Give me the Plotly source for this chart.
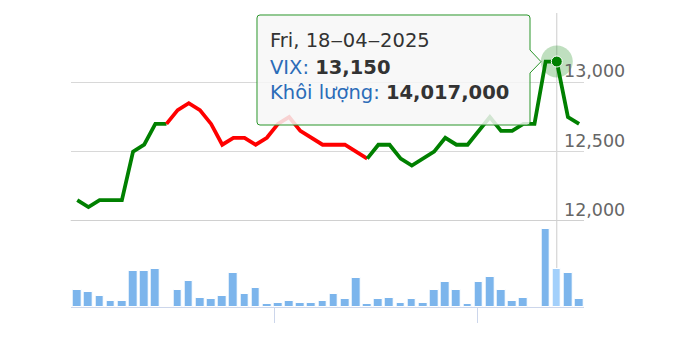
import plotly.graph_objects as go

# ---------------- data ----------------
idx = list(range(46))
price = [12150, 12100, 12150, 12150, 12150, 12500, 12550, 12700, 12700, 12800,
         12850, 12800, 12700, 12550, 12600, 12600, 12550, 12600, 12700, 12750,
         12650, 12600, 12550, 12550, 12550, 12500, 12450, 12550, 12550, 12450,
         12400, 12450, 12500, 12600, 12550, 12550, 12650, 12750, 12650, 12650,
         12700, 12700, 13150, 13150, 12750, 12700]
volume = [6400000, 5600000, 4200000, 2300000, 2300000, 13400000, 13400000, 14000000, None, 6400000,
          9500000, 3400000, 2800000, 4100000, 12700000, 5000000, 6900000, 1000000, 1600000, 2300000,
          1600000, 1600000, 2300000, 5000000, 2800000, 10700000, 1000000, 2800000, 3400000, 1600000,
          2800000, 1600000, 6200000, 9400000, 6200000, 1100000, 9400000, 11300000, 6200000, 2300000,
          3400000, None, 29000000, 14017000, 12700000, 2800000]
# colour zones of the price line (index boundaries)
zone_green1 = (0, 8)
zone_red = (8, 26)
zone_green2 = (26, 45)
hover_i = 43
hover_date = "Fri, 18\u201204\u20122025"
series_name = "VIX"
volume_name = "Khôi lượng"
price_ticks = [12000, 12500, 13000, 13500]
price_labels = ["12,000", "12,500", "13,000"]
x_ticks = [17.73, 35.85]

W, H = 690, 337
FONT = "DejaVu Sans"
GREEN = "#008000"
RED = "#ff0000"

def px(x):
    return x / W

def py(y):
    return 1 - y / H

fig = go.Figure()

# volume bars
bar_colors = ["#a3d0fb" if i == hover_i else "#7cb5ec" for i in idx]
fig.add_trace(go.Bar(x=idx, y=volume, xaxis="x", yaxis="y2", width=0.78,
                     marker=dict(color=bar_colors, line=dict(color="white", width=1)),
                     hoverinfo="skip", showlegend=False))

# price line in zones
for (a, b), col in [(zone_green1, GREEN), (zone_red, RED), (zone_green2, GREEN)]:
    fig.add_trace(go.Scatter(x=idx[a:b + 1], y=price[a:b + 1], mode="lines",
                             line=dict(color=col, width=3.8, shape="linear"),
                             xaxis="x", yaxis="y", hoverinfo="skip", showlegend=False))

# hover halo + marker
fig.add_trace(go.Scatter(x=[idx[hover_i]], y=[price[hover_i]], mode="markers",
                         marker=dict(size=32, color="rgba(0,128,0,0.25)", line=dict(width=0)),
                         xaxis="x", yaxis="y", hoverinfo="skip", showlegend=False))
fig.add_trace(go.Scatter(x=[idx[hover_i]], y=[price[hover_i]], mode="markers",
                         marker=dict(size=11, color=GREEN, line=dict(color="white", width=1)),
                         xaxis="x", yaxis="y", hoverinfo="skip", showlegend=False))

shapes = []
# crosshair
shapes.append(dict(type="line", xref="x", yref="paper", x0=idx[hover_i], x1=idx[hover_i],
                   y0=py(306), y1=py(13), line=dict(color="#cccccc", width=1), layer="below"))
# bottom of price pane (thicker)
shapes.append(dict(type="line", xref="paper", yref="y", x0=px(70.7), x1=px(584),
                   y0=price_ticks[0], y1=price_ticks[0], line=dict(color="#d0d0d0", width=2),
                   layer="below"))

# tooltip box with callout arrow
L, T, R, B, r = 257, 15, 530, 125, 3
ay0, ay1, tipx, tipy = 50, 73, 541, 61.7
pts = [
    ("M", L + r, T), ("L", R - r, T), ("Q", R, T, R, T + r), ("L", R, ay0), ("L", tipx, tipy),
    ("L", R, ay1), ("L", R, B - r), ("Q", R, B, R - r, B), ("L", L + r, B),
    ("Q", L, B, L, B - r), ("L", L, T + r), ("Q", L, T, L + r, T)
]
path = ""
for p in pts:
    cmd = p[0]
    coords = p[1:]
    seg = []
    for k in range(0, len(coords), 2):
        seg.append(f"{px(coords[k]):.5f},{py(coords[k + 1]):.5f}")
    path += cmd + " ".join(seg) + " "
path += "Z"
shapes.append(dict(type="path", xref="paper", yref="paper", path=path,
                   fillcolor="rgba(247,247,247,0.85)", line=dict(color="#2b962b", width=1),
                   layer="above"))

annotations = []
for v, lab in zip(price_ticks[:3], price_labels):
    annotations.append(dict(xref="paper", yref="y", x=px(562), y=v, yshift=11,
                            xanchor="left", yanchor="middle", showarrow=False, text=lab,
                            font=dict(family=FONT, size=17.5, color="#666666")))

tip_font = dict(family=FONT, size=19.5, color="#333333")
label_col = "#2b6cb8"
tip_lines = [
    (40, hover_date),
    (67.5, f"<span style='color:{label_col}'>{series_name}: </span><b>{price[hover_i]:,}</b>"),
    (92, f"<span style='color:{label_col}'>{volume_name}: </span><b>{volume[hover_i]:,}</b>"),
]
for yy, txt in tip_lines:
    annotations.append(dict(xref="paper", yref="paper", x=px(269), y=py(yy), xanchor="left",
                            yanchor="middle", showarrow=False, text=txt, font=tip_font,
                            borderpad=0))

fig.update_layout(
    width=W, height=H, margin=dict(l=0, r=0, t=0, b=0),
    paper_bgcolor="white", plot_bgcolor="white",
    bargap=0, showlegend=False,
    shapes=shapes, annotations=annotations,
    font=dict(family=FONT),
    xaxis=dict(domain=[px(70.7), px(584)], range=[-0.59, 45.44], anchor="y2",
               showgrid=False, zeroline=False, showline=True, linecolor="#ccd6eb", linewidth=1,
               ticks="outside", tickvals=x_ticks, ticklen=15, tickcolor="#ccd6eb", tickwidth=1,
               showticklabels=False, fixedrange=True),
    yaxis=dict(domain=[py(221), py(13)], range=[12000, 13500], tickvals=price_ticks,
               showticklabels=False, showgrid=True, gridcolor="#d8d8d8", gridwidth=1,
               zeroline=False, showline=False, anchor="x"),
    yaxis2=dict(domain=[py(307), py(226)], range=[0, 30.1e6], showgrid=False,
                showticklabels=False, zeroline=False, showline=False, anchor="x"),
)

fig.write_html("out.html")
